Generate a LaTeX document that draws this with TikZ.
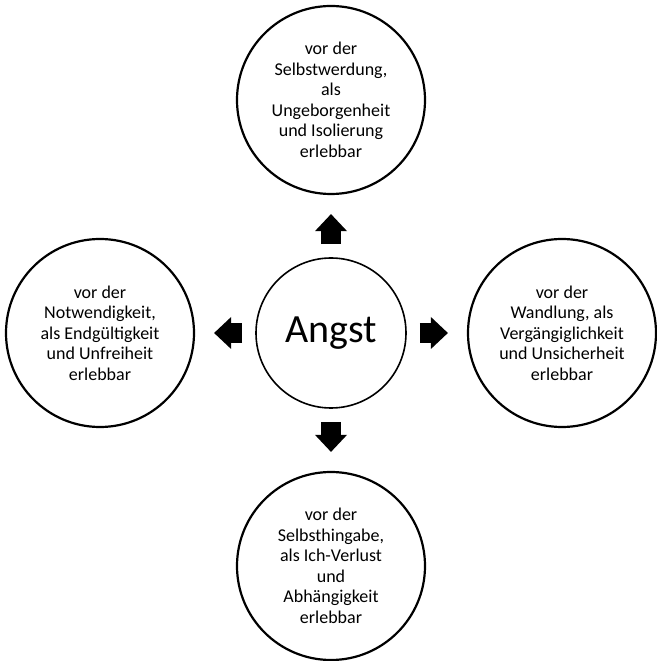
\documentclass[tikz,border=0pt]{standalone}
\usepackage{fontspec}
\setmainfont{Carlito}
\usepackage{tikz}
\usetikzlibrary{arrows.meta,positioning}

\begin{document}
\begin{tikzpicture}[on grid, font=\fontsize{18}{20.5}\selectfont,
  bubble/.style={circle,draw,line width=2.2pt,minimum size=188pt,inner sep=0pt,align=center},
  bigarrow/.style={line width=20pt,-{Triangle[length=17pt,width=32pt,line width=0pt]},shorten <=13pt,shorten >=19pt}]
\useasboundingbox (0pt,0pt) rectangle (656pt,661pt);
\node(angst)[circle,draw,line width=1.6pt,minimum size=150pt,inner sep=0pt,font=\fontsize{40}{48}\selectfont] at (331pt,328pt){Angst};

\node(werdung)[bubble,above=233pt of angst]{vor der\\Selbstwerdung,\\als\\Ungeborgenheit\\und Isolierung\\erlebbar};
\node(hingabe)[bubble,below=233pt of angst]{vor der\\Selbsthingabe,\\als Ich-Verlust\\und\\Abhängigkeit\\erlebbar};
\node(notwendig)[bubble,left=231pt of angst]{vor der\\Notwendigkeit,\\als Endgültigkeit\\und Unfreiheit\\erlebbar};
\node(wandlung)[bubble,right=231pt of angst]{vor der\\Wandlung, als\\Vergängiglichkeit\\und Unsicherheit\\erlebbar};

\draw[bigarrow] (angst) -- (werdung);
\draw[bigarrow] (angst) -- (hingabe);
\draw[bigarrow] (angst) -- (notwendig);
\draw[bigarrow] (angst) -- (wandlung);

\end{tikzpicture}
\end{document}
